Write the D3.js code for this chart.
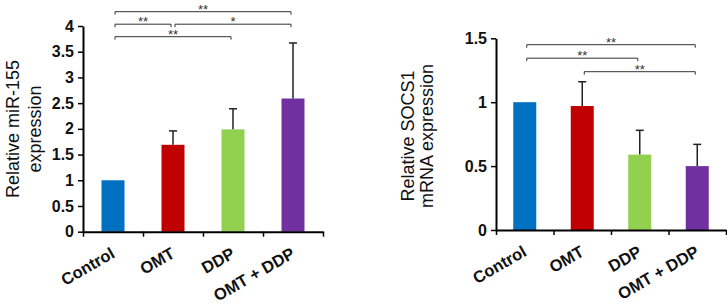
<!DOCTYPE html>
<html>
<head>
<meta charset="utf-8">
<script src="https://cdn.jsdelivr.net/npm/d3@7"></script>
<style>
  body { margin: 0; background: #fff; }
  svg { font-family: "Liberation Sans", Arial, sans-serif; display: block; }
</style>
</head>
<body>
<div id="chart"></div>
<script>
// groups and colours shared by both panels
const categories = ["Control", "OMT", "DDP", "OMT + DDP"];
const barColors = ["#0070c0", "#c00000", "#92d050", "#7030a0"];

// left panel: miR-155
const mirValues = [1.0, 1.69, 1.99, 2.59];
const mirErrors = [0, 0.27, 0.40, 1.08];
const mirTicks = [0, 0.5, 1, 1.5, 2, 2.5, 3, 3.5, 4];
// [from, to, row, label]
const mirSig = [[0, 3, 0, "**"], [0, 1, 1, "**"], [1, 3, 1, "*"], [0, 2, 2, "**"]];

// right panel: SOCS1
const socsValues = [1.0, 0.97, 0.59, 0.50];
const socsErrors = [0, 0.19, 0.19, 0.17];
const socsTicks = [0, 0.5, 1, 1.5];
const socsSig = [[0, 3, 0, "**"], [0, 2, 1, "**"], [1, 3, 2, "**"]];

const svg = d3.select("#chart")
    .append("svg")
    .attr("width", 727)
    .attr("height", 307);

function drawPanel(cfg) {
    const g = svg.append("g");

    const y = d3.scaleLinear().domain([0, cfg.yMax]).range([cfg.bottom, cfg.top]);
    const x = d3.scaleBand().domain(categories).range([cfg.left, cfg.right]);
    const xEdge = d3.scaleLinear().domain([0, categories.length]).range([cfg.left, cfg.right]);
    const barW = 23;
    const cx = function(i) { return x(categories[i]) + x.bandwidth() / 2; };

    // bars
    g.selectAll(".bar")
        .data(cfg.values)
        .enter().append("rect")
        .attr("class", "bar")
        .attr("x", function(d, i) { return cx(i) - barW / 2; })
        .attr("y", function(d) { return y(d); })
        .attr("width", barW)
        .attr("height", function(d) { return cfg.bottom - y(d); })
        .style("fill", function(d, i) { return barColors[i]; });

    // error bars (upper half only)
    const err = g.selectAll(".err")
        .data(cfg.values.map(function(v, i) { return {v: v, e: cfg.errors[i], i: i}; })
              .filter(function(d) { return d.e > 0; }))
        .enter().append("g")
        .attr("class", "err")
        .style("stroke", "#222")
        .style("stroke-width", 1.5);
    err.append("line")
        .attr("x1", function(d) { return cx(d.i); })
        .attr("x2", function(d) { return cx(d.i); })
        .attr("y1", function(d) { return y(d.v); })
        .attr("y2", function(d) { return y(d.v + d.e); });
    err.append("line")
        .attr("x1", function(d) { return cx(d.i) - 4; })
        .attr("x2", function(d) { return cx(d.i) + 4; })
        .attr("y1", function(d) { return y(d.v + d.e); })
        .attr("y2", function(d) { return y(d.v + d.e); });

    // y axis
    const yAxis = g.append("g")
        .attr("transform", "translate(" + cfg.left + ",0)")
        .call(d3.axisLeft(y).tickValues(cfg.ticks).tickSize(5).tickSizeOuter(0).tickPadding(4)
              .tickFormat(d3.format("")));
    yAxis.select(".domain").attr("stroke-width", 2);
    yAxis.selectAll(".tick line").attr("stroke-width", 1.5);
    yAxis.selectAll("text")
        .style("font-size", "16px")
        .style("font-weight", "bold")
        .style("fill", "#111");

    // x axis with ticks on the group boundaries
    const xAxis = g.append("g")
        .attr("transform", "translate(0," + cfg.bottom + ")")
        .call(d3.axisBottom(xEdge).ticks(categories.length).tickSize(5).tickSizeOuter(0)
              .tickFormat(""));
    xAxis.select(".domain").attr("stroke-width", 2);
    xAxis.selectAll(".tick line").attr("stroke-width", 1.5);

    // rotated category labels
    g.selectAll(".cat")
        .data(categories)
        .enter().append("text")
        .attr("class", "cat")
        .attr("transform", function(d, i) {
            return "translate(" + (cx(i) + 3) + "," + (cfg.bottom + 25) + ") rotate(-30)";
        })
        .style("text-anchor", "end")
        .style("font-size", "16.5px")
        .style("font-weight", "bold")
        .style("fill", "#111")
        .text(function(d) { return d; });

    // y axis title
    const title = g.append("text")
        .attr("transform", "translate(" + cfg.titleX + "," + cfg.titleY + ") rotate(-90)")
        .style("text-anchor", "middle")
        .style("font-size", cfg.titleSize + "px")
        .style("fill", "#111");
    title.selectAll("tspan")
        .data(cfg.title)
        .enter().append("tspan")
        .attr("x", 0)
        .attr("dy", function(d, i) { return i === 0 ? 0 : cfg.titleGap; })
        .text(function(d) { return d; });

    // significance brackets
    const sig = g.selectAll(".sig")
        .data(cfg.sig)
        .enter().append("g")
        .attr("class", "sig");
    sig.append("path")
        .attr("d", function(d) {
            const x1 = cx(d[0]) + 2, x2 = cx(d[1]) - 2;
            const yy = cfg.sigTop + d[2] * cfg.sigStep;
            return "M" + x1 + "," + (yy + 3) + "V" + yy + "H" + x2 + "V" + (yy + 3);
        })
        .style("fill", "none")
        .style("stroke", "#333")
        .style("stroke-width", 1);
    sig.append("text")
        .attr("x", function(d) { return (cx(d[0]) + cx(d[1])) / 2; })
        .attr("y", function(d) { return cfg.sigTop + d[2] * cfg.sigStep + 2; })
        .style("text-anchor", "middle")
        .style("font-size", "13px")
        .style("fill", "#333")
        .text(function(d) { return d[3]; });
}

drawPanel({
    left: 83, right: 323, top: 26, bottom: 231.7, yMax: 4,
    values: mirValues, errors: mirErrors, ticks: mirTicks, sig: mirSig,
    sigTop: 11.7, sigStep: 12.5,
    title: ["Relative miR-155", "expression"], titleX: 19, titleY: 129, titleSize: 18, titleGap: 21.5
});

drawPanel({
    left: 496, right: 726, top: 38.3, bottom: 230, yMax: 1.5,
    values: socsValues, errors: socsErrors, ticks: socsTicks, sig: socsSig,
    sigTop: 44.7, sigStep: 13.5,
    title: ["Relative SOCS1", "mRNA expression"], titleX: 414, titleY: 136, titleSize: 18, titleGap: 19
});
</script>
</body>
</html>
